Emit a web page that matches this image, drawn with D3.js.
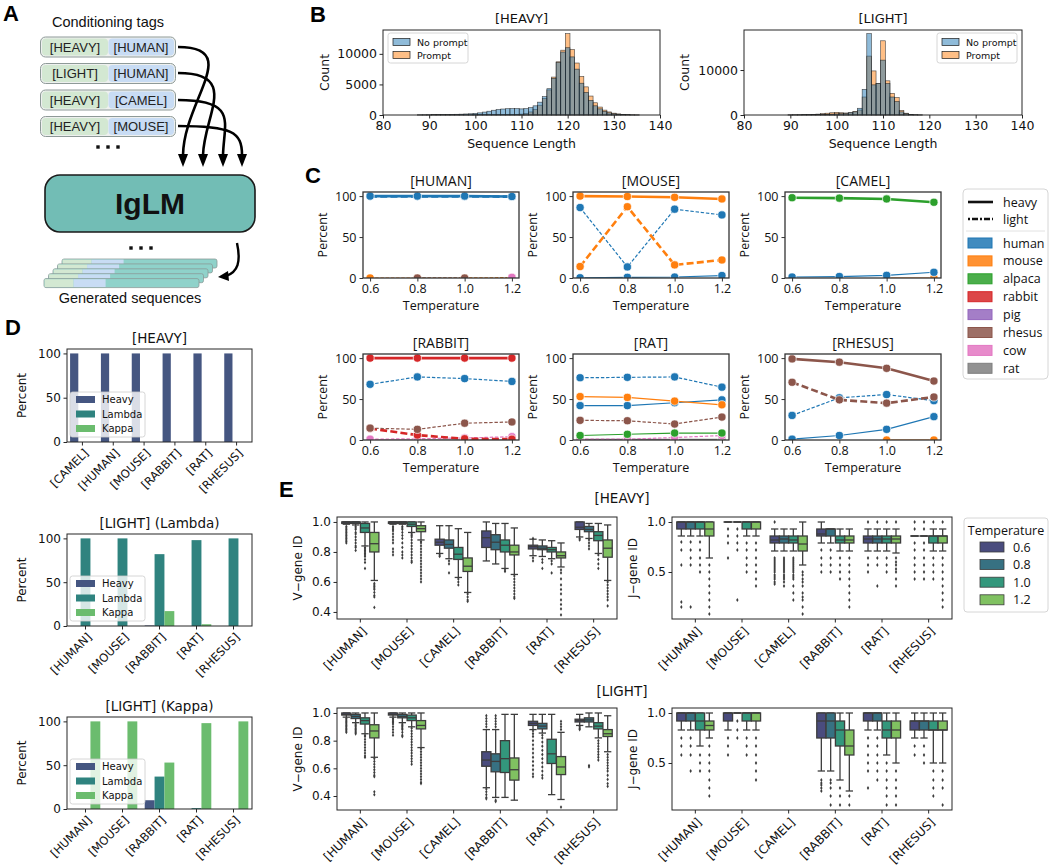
<!DOCTYPE html>
<html><head><meta charset="utf-8">
<script src="https://cdn.jsdelivr.net/npm/d3@7/dist/d3.min.js"></script>
<style>html,body{margin:0;padding:0;background:#fff}svg{display:block}</style>
</head><body>
<svg id="fig" width="1050" height="867" xmlns="http://www.w3.org/2000/svg"></svg>
<script>
const DJ = 'DejaVu Sans, sans-serif';
const OS = 'Open Sans, sans-serif';
const LB = 'Liberation Sans, Arial, sans-serif';

// ======================= DATA =======================
// A : conditioning tags
const tagRows = [['[HEAVY]','[HUMAN]'],['[LIGHT]','[HUMAN]'],['[HEAVY]','[CAMEL]'],['[HEAVY]','[MOUSE]']];

// B : sequence length histograms
const histSeries = ['No prompt','Prompt'];
const heavyLengths = [88,89,90,91,92,93,94,95,96,97,98,99,100,101,102,103,104,105,106,107,108,109,110,111,112,113,114,115,116,117,118,119,120,121,122,123,124,125,126,127,128,129,130,131,132,133,134,135];
const heavyNoPrompt = [20,30,40,50,60,70,80,100,120,140,170,200,260,350,480,620,780,900,980,1030,1050,1050,1000,1050,1200,1500,2100,3000,4300,6000,8600,10300,11000,9500,7500,5200,3700,2400,1500,1000,600,350,200,120,60,30,15,5];
const heavyPrompt = [10,10,15,15,20,20,25,30,30,35,40,45,50,55,60,65,70,75,80,85,95,110,150,250,500,900,1600,2700,4100,6200,8700,10600,13300,10700,8500,6300,4600,3100,2000,1300,800,500,300,180,100,60,30,15];
const lightLengths = [90,91,92,93,94,95,96,97,98,99,100,101,102,103,104,105,106,107,108,109,110,111,112,113,114,115,116,117,118];
const lightNoPrompt = [20,30,40,50,60,80,100,120,150,200,250,300,350,500,700,1500,5700,18100,6700,7000,12200,7000,4000,3000,700,300,120,50,20];
const lightPrompt = [30,50,60,80,100,150,200,300,400,500,600,500,450,500,800,1100,4000,13100,9800,7000,16500,7600,4800,3900,1000,400,150,60,20];
const histXTicks = [80,90,100,110,120,130,140];

// C : species percentages vs temperature
const temps = [0.6, 0.8, 1.0, 1.2];
const cSpecies = ['human','mouse','alpaca','rabbit','pig','rhesus','cow','rat'];
const cChains = ['heavy','light'];
// [species, chain, values at temps, prompted species (1) or not (0)]
const cHUMAN = [
  ['mouse','light',[0,0,0,0.5],0],
  ['rhesus','light',[null,0,0,null],0],
  ['cow','light',[null,null,null,0.8],0],
  ['human','light',[99.7,99.7,99.6,99.3],1],
  ['human','heavy',[100,100,100,99.5],1]];
const cMOUSE = [
  ['human','heavy',[0.3,0.8,1.2,3],0],
  ['human','light',[86,13.5,84,77],0],
  ['mouse','light',[14,87,16,22],1],
  ['mouse','heavy',[100,99.5,98.5,96.5],1]];
const cCAMEL = [
  ['mouse','heavy',[null,null,0,0],0],
  ['human','heavy',[1.2,1.8,3.2,7],0],
  ['alpaca','heavy',[98,97.5,96.5,92.5],1]];
const cRABBIT = [
  ['rat','heavy',[0,0,0,0],0],
  ['cow','light',[1,1.5,2.5,4],0],
  ['rabbit','light',[14,6,1.5,1],1],
  ['rhesus','light',[14.5,13,20.5,22],0],
  ['human','light',[68,77,75,71.5],0],
  ['rabbit','heavy',[100,100,100,100],1]];
const cRAT = [
  ['mouse','light',[0,null,null,null],0],
  ['rat','heavy',[0,0,0,0],1],
  ['cow','light',[1,1,3,5.5],0],
  ['alpaca','heavy',[5.5,7,8.5,8.5],0],
  ['rhesus','light',[24,23.5,19.5,28],0],
  ['human','heavy',[42,42,45.5,49],0],
  ['mouse','heavy',[53,52,47.5,43],0],
  ['human','light',[76,76.5,77,64.5],0]];
const cRHESUS = [
  ['mouse','heavy',[null,null,0,0],0],
  ['human','heavy',[1,5.5,13,28.5],0],
  ['human','light',[30,51.5,55.5,48],0],
  ['rhesus','light',[70.5,49,45,52.5],1],
  ['rhesus','heavy',[99,95,87.5,72],1]];
const cTitles = ['[HUMAN]','[MOUSE]','[CAMEL]','[RABBIT]','[RAT]','[RHESUS]'];
const cYTicks = [0,50,100];

// D : chain type percentages
const dLevels = ['Heavy','Lambda','Kappa'];
const dHeavyCats = ['[CAMEL]','[HUMAN]','[MOUSE]','[RABBIT]','[RAT]','[RHESUS]'];
const dHeavy_Heavy = [100,100,100,100,100,100];
const dHeavy_Lambda = [0,0,0,0,0,0];
const dHeavy_Kappa = [0,0,0,0,0,0];
const dLightCats = ['[HUMAN]','[MOUSE]','[RABBIT]','[RAT]','[RHESUS]'];
const dLambda_Heavy = [0,0,0.6,0,0];
const dLambda_Lambda = [100,100,82,98,100];
const dLambda_Kappa = [0,0,17,2,0];
const dKappa_Heavy = [0,0,10,0,0];
const dKappa_Lambda = [0,0,37,1,0];
const dKappa_Kappa = [100,100,53,98,100];
const dYTicks = [0,50,100];

// E : germline identity boxplots  [whisker low, q1, median, q3, whisker high, outliers]
const eCats = ['[HUMAN]','[MOUSE]','[CAMEL]','[RABBIT]','[RAT]','[RHESUS]'];
const eTemps = ['0.6','0.8','1.0','1.2'];
const heavyV = [
 [[0.985,0.99,1.0,1.0,1.0,[0.97,0.96,0.95,0.94,0.93,0.92,0.91,0.90,0.89,0.88,0.87,0.86]],
  [0.98,0.99,1.0,1.0,1.0,[0.97,0.96,0.95,0.93,0.92,0.90,0.88,0.86,0.84,0.83,0.81]],
  [0.84,0.93,0.96,0.99,1.0,[0.83,0.82,0.81,0.80,0.79,0.78,0.77,0.75,0.73,0.69]],
  [0.61,0.80,0.855,0.93,1.0,[0.59,0.58,0.57,0.56,0.55,0.53,0.51,0.50,0.43]]],
 [[0.985,0.99,1.0,1.0,1.0,[0.97,0.96,0.95,0.94,0.92,0.90,0.88,0.86,0.82,0.80,0.78]],
  [0.985,0.99,1.0,1.0,1.0,[0.97,0.96,0.95,0.93,0.91,0.89,0.86,0.83,0.80,0.78,0.76]],
  [0.93,0.97,0.985,1.0,1.0,[0.92,0.91,0.90,0.88,0.86,0.84,0.82,0.80,0.78,0.76,0.74,0.73]],
  [0.88,0.935,0.955,0.975,1.0,[0.87,0.86,0.84,0.82,0.80,0.78,0.76,0.74,0.72,0.70,0.68,0.66,0.64,0.62,0.60]]],
 [[0.79,0.845,0.865,0.885,0.975,[0.78,0.77]],
  [0.755,0.825,0.85,0.88,0.975,[0.74,0.72,0.66]],
  [0.63,0.75,0.785,0.83,0.955,[0.62,0.60,0.58]],
  [0.53,0.67,0.705,0.76,0.93,[0.52,0.50,0.48,0.47]]],
 [[0.74,0.83,0.895,0.94,1.0,[]],
  [0.72,0.815,0.865,0.915,0.99,[]],
  [0.69,0.80,0.845,0.88,0.99,[0.68,0.67]],
  [0.65,0.78,0.80,0.845,0.96,[0.64,0.62,0.60,0.58,0.56,0.54,0.52,0.50,0.49]]],
 [[0.775,0.82,0.835,0.845,0.885,[0.76,0.74,0.89]],
  [0.77,0.815,0.825,0.84,0.88,[0.75,0.73,0.69]],
  [0.755,0.80,0.815,0.83,0.875,[0.74,0.72,0.66]],
  [0.70,0.76,0.775,0.80,0.86,[0.68,0.66,0.62,0.58,0.55,0.52,0.48,0.45,0.42,0.38]]],
 [[0.90,0.95,0.965,1.0,1.0,[0.89,0.88]],
  [0.89,0.935,0.95,0.97,0.99,[0.88,0.86,0.84,0.82]],
  [0.79,0.875,0.91,0.935,0.99,[0.78,0.75,0.72,0.69]],
  [0.61,0.765,0.825,0.88,0.98,[0.60,0.58,0.56,0.54,0.52,0.50,0.48,0.44]]]];
const heavyJ = [
 [[0.86,0.93,1.0,1.0,1.0,[0.80,0.72,0.57,0.20,0.15]],
  [0.86,0.93,1.0,1.0,1.0,[0.80,0.72,0.64,0.57,0.15]],
  [0.86,0.93,1.0,1.0,1.0,[0.80,0.72,0.64,0.57,0.50]],
  [0.64,0.86,0.93,1.0,1.0,[0.57,0.50,0.43,0.36,0.29,0.22,0.15,0.08]]],
 [[1,1,1,1,1,[0.93,0.86,0.79,0.64]],
  [1,1,1,1,1,[0.93,0.86,0.79,0.72,0.22]],
  [0.86,0.93,1.0,1.0,1.0,[0.79,0.72,0.64,0.57,0.50]],
  [0.86,0.93,1.0,1.0,1.0,[0.79,0.72,0.64,0.57,0.50,0.43,0.36]]],
 [[0.71,0.79,0.82,0.86,0.93,[1.0,0.64,0.62,0.60,0.58,0.56,0.54,0.52,0.50,0.47,0.45,0.43,0.40,0.38]],
  [0.71,0.79,0.83,0.86,0.93,[0.64,0.62,0.60,0.58,0.56,0.54,0.52,0.50,0.47,0.45,0.43,0.40,0.36]],
  [0.71,0.79,0.82,0.86,0.93,[0.64,0.62,0.60,0.58,0.56,0.54,0.52,0.50,0.47,0.45,0.43,0.36,0.29,0.22]],
  [0.57,0.71,0.78,0.86,1.0,[0.50,0.47,0.43,0.40,0.36,0.29,0.25,0.22,0.15,0.08]]],
 [[0.79,0.86,0.88,0.93,1.0,[0.72,0.64,0.57,0.50]],
  [0.79,0.86,0.93,0.93,0.93,[0.72,0.64,0.57,0.50]],
  [0.71,0.79,0.82,0.86,0.93,[0.64,0.57,0.50,0.43]],
  [0.71,0.79,0.82,0.86,0.93,[0.64,0.57,0.50,0.43,0.36,0.29,0.22,0.15]]],
 [[0.71,0.79,0.83,0.86,0.93,[1.0,0.64,0.57,0.50]],
  [0.71,0.79,0.83,0.86,0.93,[1.0,0.64,0.57,0.36]],
  [0.71,0.79,0.83,0.86,0.93,[1.0,0.64,0.57,0.50]],
  [0.69,0.79,0.83,0.86,0.93,[1.0,0.64,0.60,0.57,0.53,0.50,0.43,0.36]]],
 [[0.86,0.86,0.86,0.86,0.86,[1.0,0.93,0.79,0.72,0.64,0.57,0.50,0.43]],
  [0.86,0.86,0.86,0.86,0.86,[1.0,0.93,0.79,0.72,0.64,0.57,0.50,0.43]],
  [0.71,0.79,0.86,0.86,0.93,[1.0,0.64,0.57,0.50,0.43]],
  [0.71,0.79,0.86,0.86,0.93,[1.0,0.64,0.57,0.50,0.43,0.36,0.29,0.22,0.15]]]];
const lightV = [
 [[0.97,0.985,0.99,1.0,1.0,[0.96,0.95,0.94,0.93,0.92,0.91,0.90,0.89,0.88,0.87,0.86]],
  [0.93,0.96,0.975,0.99,1.0,[0.92,0.91,0.90,0.89,0.88,0.87,0.86,0.85]],
  [0.85,0.92,0.945,0.965,1.0,[0.84,0.83,0.81,0.79,0.77,0.75,0.73,0.71,0.69,0.68]],
  [0.68,0.82,0.87,0.915,1.0,[0.67,0.65,0.63,0.61,0.59,0.57,0.55,0.54,0.43,0.41]]],
 [[0.97,0.985,0.99,1.0,1.0,[0.96,0.95,0.94,0.93,0.92,0.90,0.88,0.86,0.84]],
  [0.93,0.965,0.975,0.99,1.0,[0.92,0.91,0.90,0.89,0.88,0.86,0.84,0.83]],
  [0.90,0.945,0.965,0.985,1.0,[0.89,0.87,0.85,0.83,0.81,0.79,0.77,0.75,0.73,0.71,0.69,0.67,0.65,0.63]],
  [0.75,0.885,0.91,0.945,1.0,[0.74,0.72,0.70,0.68,0.66,0.64,0.62,0.60,0.58,0.56,0.54,0.52,0.50,0.49]]],
 null,
 [[0.46,0.615,0.66,0.72,0.88,[0.90,0.92,0.94,0.96,0.98,0.45,0.43,0.41,0.39,0.38]],
  [0.39,0.575,0.65,0.705,0.88,[0.90,0.92,0.94,0.96,0.98,0.37,0.36]],
  [0.39,0.57,0.67,0.80,0.99,[]],
  [0.37,0.515,0.59,0.675,0.99,[]]],
 [[0.88,0.91,0.925,0.94,0.99,[0.87,0.85,0.83,0.80,0.77,0.74,0.71,0.68,0.65,0.62,0.59,0.56,0.54]],
  [0.855,0.885,0.905,0.925,0.99,[0.84,0.82,0.79,0.76,0.73,0.70,0.67,0.64,0.61,0.58,0.55,0.53]],
  [0.41,0.635,0.705,0.81,0.99,[]],
  [0.375,0.555,0.61,0.685,0.86,[0.88,0.90,0.92,0.94,0.32]]],
 [[0.91,0.935,0.945,0.955,0.99,[0.90,0.89,0.88]],
  [0.90,0.935,0.95,0.965,1.0,[0.62,0.61]],
  [0.82,0.885,0.905,0.93,1.0,[0.80,0.78,0.76,0.74,0.72,0.70,0.68,0.66]],
  [0.72,0.83,0.85,0.88,0.98,[0.70,0.68,0.66,0.64,0.62,0.60,0.58,0.55,0.52,0.49,0.47]]]];
const lightJ = [
 [[0.83,0.92,1.0,1.0,1.0,[0.75,0.67,0.58]],
  [0.83,0.92,1.0,1.0,1.0,[0.75,0.67,0.58,0.42]],
  [0.67,0.83,0.92,1.0,1.0,[0.58,0.50,0.42]],
  [0.75,0.83,0.875,0.92,1.0,[0.67,0.58,0.50,0.42,0.33,0.25,0.17]]],
 [[0.83,0.92,1.0,1.0,1.0,[0.75,0.67,0.58]],
  [1,1,1,1,1,[0.92,0.83,0.75]],
  [0.83,0.92,1.0,1.0,1.0,[0.75,0.67,0.58]],
  [0.83,0.92,1.0,1.0,1.0,[0.75,0.67,0.58,0.50,0.42,0.33]]],
 null,
 [[0.42,0.75,0.92,1.0,1.0,[0.33,0.30,0.28,0.25,0.22]],
  [0.42,0.75,0.92,1.0,1.0,[0.33,0.30,0.25,0.17,0.08]],
  [0.33,0.67,0.83,0.92,1.0,[0.25,0.17,0.08]],
  [0.22,0.58,0.67,0.83,1.0,[0.17,0.08]]],
 [[0.83,0.92,1.0,1.0,1.0,[0.75,0.67,0.58,0.50,0.42,0.25]],
  [0.83,0.92,1.0,1.0,1.0,[0.75,0.67,0.58,0.50,0.42,0.33]],
  [0.58,0.75,0.83,0.92,1.0,[0.50,0.42,0.33,0.25,0.17,0.08]],
  [0.50,0.75,0.83,0.92,1.0,[0.42,0.33,0.25,0.17,0.08]]],
 [[0.75,0.83,0.92,0.92,1.0,[0.67,0.58]],
  [0.75,0.83,0.92,0.92,1.0,[0.67,0.58,0.50]],
  [0.50,0.83,0.83,0.92,1.0,[0.42,0.33,0.25,0.17]],
  [0.50,0.83,0.83,0.92,1.0,[0.42,0.33,0.25,0.08]]]];
const vTicks = [0.4,0.6,0.8,1.0];
const jTicks = [0.5,1.0];

// ======================= HELPERS =======================
const svg = d3.select('#fig');
const SP = '#262626';
function desat(c,p){const h=d3.hsl(c);h.s*=p;return h.formatHex();}
function txt(g,x,y,s,size,font,anchor='middle',weight='normal',fill='#111'){
  return g.append('text').attr('x',x).attr('y',y).attr('font-size',size).attr('font-family',font)
    .attr('text-anchor',anchor).attr('font-weight',weight).attr('fill',fill).text(s);
}
function vtxt(g,x,y,s,size,font){
  return g.append('text').attr('transform',`translate(${x},${y}) rotate(-90)`).attr('font-size',size)
    .attr('font-family',font).attr('text-anchor','middle').attr('fill','#111').text(s);
}
function frame(g,L,T,R,B,w=1,c=SP){
  g.append('rect').attr('x',L).attr('y',T).attr('width',R-L).attr('height',B-T)
   .attr('fill','none').attr('stroke',c).attr('stroke-width',w);
}
function styleAx(a,size,font,c=SP){
  a.select('.domain').remove();
  a.selectAll('line').attr('stroke',c).attr('stroke-width',1);
  a.selectAll('text').attr('font-size',size).attr('font-family',font).attr('fill','#111');
  return a;
}
function letter(s,x,y){ txt(svg,x,y,s,22,LB,'start','bold','#000'); }

// ======================= PANEL A =======================
(function(){
  const g = svg.append('g');
  letter('A',3,21);
  txt(g,108,27,'Conditioning tags',14.5,LB);
  tagRows.forEach((r,i)=>{
    const cy = 47 + i*26.5;
    g.append('rect').attr('x',40.5).attr('y',cy-10).attr('width',135).attr('height',20).attr('rx',5)
      .attr('fill','#eef0ef').attr('stroke','#8e9a98').attr('stroke-width',1);
    g.append('rect').attr('x',42).attr('y',cy-8.5).attr('width',66).attr('height',17).attr('rx',4).attr('fill','#d3e8d2');
    g.append('rect').attr('x',108.5).attr('y',cy-8.5).attr('width',65.5).attr('height',17).attr('rx',4).attr('fill','#c8dcf4');
    txt(g,75,cy+4.5,r[0],13,LB,'middle','normal','#222');
    txt(g,141,cy+4.5,r[1],13,LB,'middle','normal','#222');
  });
  [[98,147],[108,147],[118,147],[131,248],[141,248],[151,248]].forEach(p=>
    g.append('rect').attr('x',p[0]-1.7).attr('y',p[1]-1.7).attr('width',3.4).attr('height',3.4).attr('fill','#111'));
  const curves = [
    'M178,47 C243,47 184,100 183,155',
    'M178,73 C240,73 204,115 203,155',
    'M178,100 C238,100 224,122 223,155',
    'M178,126 C232,126 242,132 242,155'];
  const tips = [183,203,223,242];
  curves.forEach((d,i)=>{
    g.append('path').attr('d',d).attr('fill','none').attr('stroke','#000').attr('stroke-width',2.6);
    const t = tips[i];
    g.append('path').attr('d',`M${t-5},154 L${t+5},154 L${t},167 Z`).attr('fill','#000');
  });
  g.append('rect').attr('x',45).attr('y',175).attr('width',210).attr('height',57).attr('rx',15)
    .attr('fill','#72bdb5').attr('stroke','#1a1a1a').attr('stroke-width',1.6);
  txt(g,150,214,'IgLM',30,LB,'middle','bold','#111');
  for(let i=0;i<5;i++){
    const x0 = 62 - i*4.5, y0 = 259 + i*4.9, w=155, h=9;
    const s = g.append('g');
    s.append('rect').attr('x',x0).attr('y',y0).attr('width',w).attr('height',h).attr('rx',2).attr('fill','#8fd2ca').attr('stroke','#8a9a98').attr('stroke-width',0.8);
    s.append('rect').attr('x',x0+0.6).attr('y',y0+0.6).attr('width',29).attr('height',h-1.2).attr('fill','#d3e8d2');
    s.append('rect').attr('x',x0+29.6).attr('y',y0+0.6).attr('width',32).attr('height',h-1.2).attr('fill','#c8dcf4');
  }
  g.append('path').attr('d','M237,243 C241,262 238,272 226,276').attr('fill','none').attr('stroke','#000').attr('stroke-width',2.4);
  g.append('path').attr('d','M218,277 L228,271 L229,281 Z').attr('fill','#000');
  txt(g,130,303,'Generated sequences',14.5,LB);
})();

// ======================= PANEL B =======================
function histPanel(o){
  const g = svg.append('g');
  const x = d3.scaleLinear().domain([80,140]).range([o.L,o.R]);
  const y = d3.scaleLinear().domain([0,o.ymax]).range([o.B,o.T]);
  const data = o.lengths.map((v,i)=>({v,np:o.np[i],p:o.p[i]}));
  const draw = (key,col)=> g.selectAll(null).data(data).join('rect')
     .attr('x',d=>x(d.v-0.5)).attr('width',d=>x(d.v+0.5)-x(d.v-0.5))
     .attr('y',d=>y(d[key])).attr('height',d=>o.B-y(d[key]))
     .attr('fill',col).attr('fill-opacity',0.5).attr('stroke','#1a1a1a').attr('stroke-width',0.6).attr('stroke-opacity',0.8);
  draw('p','#ff7f0e');
  draw('np','#1f77b4');
  frame(g,o.L,o.T,o.R,o.B);
  styleAx(g.append('g').attr('transform',`translate(0,${o.B})`).call(d3.axisBottom(x).tickValues(histXTicks).tickSize(3.5).tickPadding(2.5)),12.5,DJ);
  styleAx(g.append('g').attr('transform',`translate(${o.L},0)`).call(d3.axisLeft(y).tickValues(o.yticks).tickFormat(d3.format('d')).tickSize(3.5).tickPadding(2.5)),12.5,DJ);
  txt(g,(o.L+o.R)/2,o.T-7,o.title,13,DJ);
  txt(g,(o.L+o.R)/2,o.B+33,'Sequence Length',12.5,DJ);
  vtxt(g,o.ylabX,(o.T+o.B)/2,'Count',12.5,DJ);
  const lg = g.append('g');
  lg.append('rect').attr('x',o.legX).attr('y',o.T+3).attr('width',80).attr('height',30).attr('rx',2.5)
    .attr('fill','#fff').attr('fill-opacity',0.85).attr('stroke','#cccccc').attr('stroke-width',0.8);
  [['#1f77b4',histSeries[0]],['#ff7f0e',histSeries[1]]].forEach((e,i)=>{
    const yy = o.T+12+i*13;
    lg.append('rect').attr('x',o.legX+5).attr('y',yy-3.5).attr('width',17).attr('height',7)
      .attr('fill',e[0]).attr('fill-opacity',0.5).attr('stroke','#1a1a1a').attr('stroke-width',0.7);
    txt(lg,o.legX+29,yy+3.5,e[1],9.5,DJ,'start');
  });
}
letter('B',310,22);
histPanel({L:383,R:660,T:30,B:115,ymax:13900,yticks:[0,5000,10000],lengths:heavyLengths,np:heavyNoPrompt,p:heavyPrompt,title:'[HEAVY]',ylabX:329,legX:388});
histPanel({L:744,R:1022,T:30,B:115,ymax:18900,yticks:[0,10000],lengths:lightLengths,np:lightNoPrompt,p:lightPrompt,title:'[LIGHT]',ylabX:689,legX:937});

// ======================= PANEL C =======================
const spColor = d3.scaleOrdinal().domain(cSpecies).range(d3.schemeCategory10.slice(0,8));
let clipN = 0;
function cPanel(title,series,L,T){
  const W=156,H=86,R=L+W,B=T+H;
  const g = svg.append('g');
  const x = d3.scaleLinear().domain([0.57,1.23]).range([L,R]);
  const y = d3.scaleLinear().domain([0,105]).range([B,T]);
  const id = 'cclip'+(clipN++);
  g.append('clipPath').attr('id',id).append('rect').attr('x',L).attr('y',T-10).attr('width',W+6).attr('height',H+10);
  const pg = g.append('g').attr('clip-path',`url(#${id})`);
  series.forEach(s=>{
    const [sp,chain,vals,emph]=s;
    const col = spColor(sp), lw = emph?2.6:1.2;
    const pts = temps.map((t,i)=>({t,v:vals[i]}));
    pg.append('path').datum(pts)
      .attr('d',d3.line().defined(d=>d.v!=null).x(d=>x(d.t)).y(d=>y(d.v)))
      .attr('fill','none').attr('stroke',col).attr('stroke-width',lw)
      .attr('stroke-dasharray',chain===cChains[1]?(emph?'7,3.2':'3.4,1.8'):null);
    pg.selectAll(null).data(pts.filter(d=>d.v!=null)).join('circle')
      .attr('cx',d=>x(d.t)).attr('cy',d=>y(d.v)).attr('r',4.1)
      .attr('fill',col).attr('stroke','#fff').attr('stroke-width',0.7);
  });
  frame(g,L,T,R,B,1.3,'#333');
  styleAx(g.append('g').attr('transform',`translate(0,${B})`).call(d3.axisBottom(x).tickValues(temps).tickFormat(d3.format('.1f')).tickSize(3.5).tickPadding(3)),12.5,OS,'#333');
  styleAx(g.append('g').attr('transform',`translate(${L},0)`).call(d3.axisLeft(y).tickValues(cYTicks).tickSize(3.5).tickPadding(3)),12.5,OS,'#333');
  txt(g,(L+R)/2,T-6,title,14,OS);
  txt(g,(L+R)/2,B+32,'Temperature',12.5,OS);
  vtxt(g,L-36,(T+B)/2,'Percent',12.5,OS);
}
letter('C',305,183);
const cSets = [cHUMAN,cMOUSE,cCAMEL,cRABBIT,cRAT,cRHESUS];
const cLefts = [363,573,785], cTops = [192,354];
cSets.forEach((s,i)=>cPanel(cTitles[i],s,cLefts[i%3],cTops[Math.floor(i/3)]));
(function(){
  const g = svg.append('g');
  g.append('rect').attr('x',963).attr('y',189).attr('width',85).attr('height',190).attr('rx',4)
    .attr('fill','#fff').attr('stroke','#d6d6d6').attr('stroke-width',1);
  g.append('line').attr('x1',968).attr('x2',993).attr('y1',202).attr('y2',202).attr('stroke','#111').attr('stroke-width',2.6);
  g.append('line').attr('x1',968).attr('x2',993).attr('y1',219).attr('y2',219).attr('stroke','#111').attr('stroke-width',2.6).attr('stroke-dasharray','2,2,6,2');
  txt(g,1003,206.5,cChains[0],12.5,OS,'start');
  txt(g,1003,223.5,cChains[1],12.5,OS,'start');
  g.append('line').attr('x1',966).attr('x2',1045).attr('y1',231).attr('y2',231).attr('stroke','#e2e2e2').attr('stroke-width',1);
  cSpecies.forEach((sp,i)=>{
    const yy = 243 + i*17.9;
    g.append('rect').attr('x',968).attr('y',yy-5).attr('width',24).attr('height',10)
      .attr('fill',spColor(sp)).attr('fill-opacity',0.85).attr('stroke',spColor(sp)).attr('stroke-width',1);
    txt(g,1003,yy+4.5,sp,12.5,OS,'start');
  });
})();

// ======================= PANEL D =======================
const dColors = [0.25,0.5,0.75].map(t=>desat(d3.interpolateViridis(t),0.75));
function dPanel(title,cats,series,T,B){
  const L=67,R=252;
  const g = svg.append('g');
  const x = d3.scaleBand().domain(cats).range([L,R]);
  const y = d3.scaleLinear().domain([0,105]).range([B,T]);
  const bw = x.bandwidth()*0.8/3;
  series.forEach((vals,j)=>{
    g.selectAll(null).data(cats.map((c,i)=>({c,v:vals[i]}))).join('rect')
      .attr('x',d=>x(d.c)+x.bandwidth()/2+(j-1)*bw-bw/2).attr('width',bw)
      .attr('y',d=>y(d.v)).attr('height',d=>B-y(d.v)).attr('fill',dColors[j]);
  });
  frame(g,L,T,R,B);
  styleAx(g.append('g').attr('transform',`translate(${L},0)`).call(d3.axisLeft(y).tickValues(dYTicks).tickSize(3.5).tickPadding(2.5)),12,DJ);
  const ax = styleAx(g.append('g').attr('transform',`translate(0,${B})`).call(d3.axisBottom(x).tickSize(3.5)),11.5,DJ);
  ax.selectAll('text').attr('x',0).attr('y',0).attr('dy','0.35em').attr('text-anchor','end')
    .attr('transform','translate(4,9) rotate(-45)');
  txt(g,(L+R)/2,T-6,title,13.5,DJ);
  vtxt(g,26,(T+B)/2,'Percent',12,DJ);
  const ly = B-50;
  g.append('rect').attr('x',70).attr('y',ly).attr('width',75).attr('height',45).attr('rx',2.5)
    .attr('fill','#fff').attr('fill-opacity',0.8).attr('stroke','#cccccc').attr('stroke-width',0.8);
  dLevels.forEach((lv,j)=>{
    const yy = ly+7.5+j*14.5;
    g.append('rect').attr('x',76).attr('y',yy-3.5).attr('width',19).attr('height',7).attr('fill',dColors[j]);
    txt(g,102,yy+3.6,lv,10,DJ,'start');
  });
}
letter('D',5,335);
dPanel('[HEAVY]',dHeavyCats,[dHeavy_Heavy,dHeavy_Lambda,dHeavy_Kappa],349,442);
dPanel('[LIGHT] (Lambda)',dLightCats,[dLambda_Heavy,dLambda_Lambda,dLambda_Kappa],534,626);
dPanel('[LIGHT] (Kappa)',dLightCats,[dKappa_Heavy,dKappa_Lambda,dKappa_Kappa],717,809);

// ======================= PANEL E =======================
const eColors = [0.2,0.4,0.6,0.8].map(t=>desat(d3.interpolateViridis(t),0.75));
const BOXC = '#3d3d3d';
function ePanel(data,L,T,B,dom,ticks,ylabel,ylabX){
  const R=L+280;
  const g = svg.append('g');
  const x = d3.scaleBand().domain(eCats).range([L,R]);
  const y = d3.scaleLinear().domain(dom).range([B,T]);
  const u = x.bandwidth(), bw = u*0.2*0.98;
  data.forEach((cat,i)=>{
    if(!cat) return;
    cat.forEach((b,j)=>{
      const [lo,q1,md,q3,hi,outs]=b;
      const cx = x(eCats[i])+u/2+(j-1.5)*u*0.2;
      const gg = g.append('g');
      gg.append('line').attr('x1',cx).attr('x2',cx).attr('y1',y(q1)).attr('y2',y(lo)).attr('stroke',BOXC).attr('stroke-width',1.3);
      gg.append('line').attr('x1',cx).attr('x2',cx).attr('y1',y(q3)).attr('y2',y(hi)).attr('stroke',BOXC).attr('stroke-width',1.3);
      [lo,hi].forEach(v=>gg.append('line').attr('x1',cx-bw*0.4).attr('x2',cx+bw*0.4).attr('y1',y(v)).attr('y2',y(v)).attr('stroke',BOXC).attr('stroke-width',1.3));
      gg.append('rect').attr('x',cx-bw/2).attr('width',bw).attr('y',y(q3)).attr('height',Math.max(0,y(q1)-y(q3)))
        .attr('fill',eColors[j]).attr('stroke',BOXC).attr('stroke-width',1.3);
      gg.append('line').attr('x1',cx-bw/2).attr('x2',cx+bw/2).attr('y1',y(md)).attr('y2',y(md)).attr('stroke',BOXC).attr('stroke-width',1.3);
      gg.selectAll(null).data(outs).join('path')
        .attr('d',v=>`M${cx},${y(v)-1.9} L${cx+1.2},${y(v)} L${cx},${y(v)+1.9} L${cx-1.2},${y(v)} Z`)
        .attr('fill',BOXC);
    });
  });
  frame(g,L,T,R,B);
  styleAx(g.append('g').attr('transform',`translate(${L},0)`).call(d3.axisLeft(y).tickValues(ticks).tickFormat(d3.format('.1f')).tickSize(3.5).tickPadding(2.5)),12,DJ);
  const ax = styleAx(g.append('g').attr('transform',`translate(0,${B})`).call(d3.axisBottom(x).tickSize(3.5)),12,DJ);
  ax.selectAll('text').attr('x',0).attr('y',0).attr('dy','0.35em').attr('text-anchor','end')
    .attr('transform','translate(4,10) rotate(-45)');
  vtxt(g,ylabX,(T+B)/2,ylabel,12,DJ);
}
letter('E',279,497);
txt(svg,622,503,'[HEAVY]',13.5,DJ);
txt(svg,622,696,'[LIGHT]',13.5,DJ);
ePanel(heavyV,337,517,619,[0.353,1.033],vTicks,'V−gene ID',302);
ePanel(heavyJ,672,517,619,[0.03,1.05],jTicks,'J−gene ID',637);
ePanel(lightV,337,708,810,[0.299,1.036],vTicks,'V−gene ID',302);
ePanel(lightJ,672,708,810,[0.03,1.05],jTicks,'J−gene ID',637);
(function(){
  const g = svg.append('g');
  g.append('rect').attr('x',964).attr('y',518).attr('width',84).attr('height',94).attr('rx',3)
    .attr('fill','#fff').attr('stroke','#d6d6d6').attr('stroke-width',1);
  txt(g,1006,535,'Temperature',12.5,OS);
  eTemps.forEach((t,j)=>{
    const yy = 547+j*17.6;
    g.append('rect').attr('x',980).attr('y',yy-5).attr('width',24).attr('height',10).attr('fill',eColors[j]).attr('stroke',BOXC).attr('stroke-width',0.8);
    txt(g,1013,yy+4.5,t,12.5,OS,'start');
  });
})();
</script>
</body></html>
